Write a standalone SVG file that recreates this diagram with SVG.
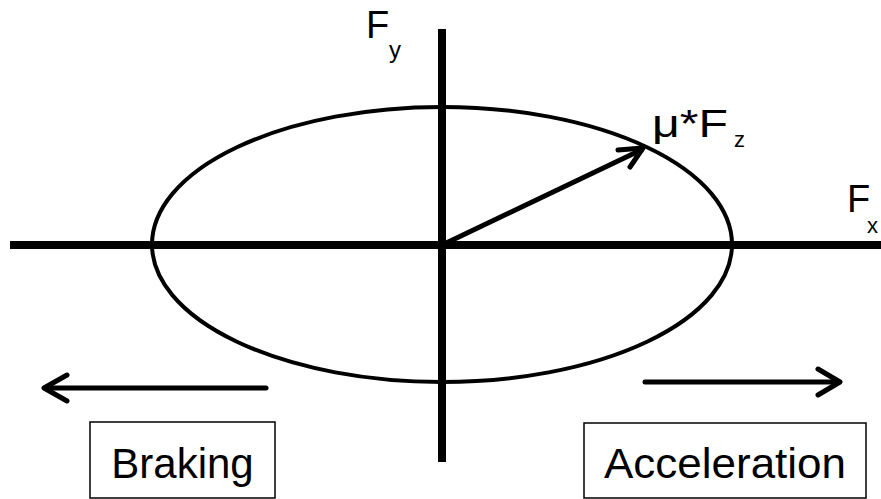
<svg xmlns="http://www.w3.org/2000/svg" width="881" height="499" viewBox="0 0 881 499">
<style>
.ax{stroke:#000;stroke-width:8;fill:none}
.ln{stroke:#000;stroke-width:5;fill:none;stroke-linecap:round;stroke-linejoin:round}
.t{font-family:"Liberation Sans",Arial,sans-serif;fill:#000}
.box{fill:#fff;stroke:#000;stroke-width:1.5}
</style>
<rect width="881" height="499" fill="#fff"/>
<g id="connectors">
<line class="ax" x1="442" y1="29" x2="442" y2="462"/>
<line class="ax" x1="10" y1="245" x2="881" y2="245"/>
<line class="ln" x1="442" y1="245" x2="641" y2="150"/>
<polyline class="ln" points="618,150 643,148 630,167"/>
<line class="ln" x1="266" y1="388" x2="45" y2="388"/>
<polyline class="ln" points="67,375 44,388 67,401"/>
<line class="ln" x1="645" y1="382" x2="838" y2="382"/>
<polyline class="ln" points="818,369 840,382 818,395"/>
</g>
<g id="ellipse"><ellipse cx="442" cy="244.5" rx="290" ry="137.5" fill="none" stroke="#000" stroke-width="4"/></g>
<g id="label-fy"><text class="t" x="366" y="38" font-size="38">F</text><text class="t" x="389" y="58" font-size="24">y</text></g>
<g id="label-mu"><text class="t" x="652" y="137" font-size="38" textLength="76" lengthAdjust="spacingAndGlyphs">μ*F</text><text class="t" x="734" y="147" font-size="22">z</text></g>
<g id="label-fx"><text class="t" x="847" y="212" font-size="38">F</text><text class="t" x="867" y="233" font-size="22">x</text></g>
<g id="braking"><rect class="box" x="90" y="422" width="185" height="76"/><text class="t" x="182.5" y="478" font-size="42" text-anchor="middle">Braking</text></g>
<g id="acceleration"><rect class="box" x="584" y="423" width="282" height="75"/><text class="t" x="725" y="478" font-size="42" text-anchor="middle" textLength="242" lengthAdjust="spacingAndGlyphs">Acceleration</text></g>
</svg>
